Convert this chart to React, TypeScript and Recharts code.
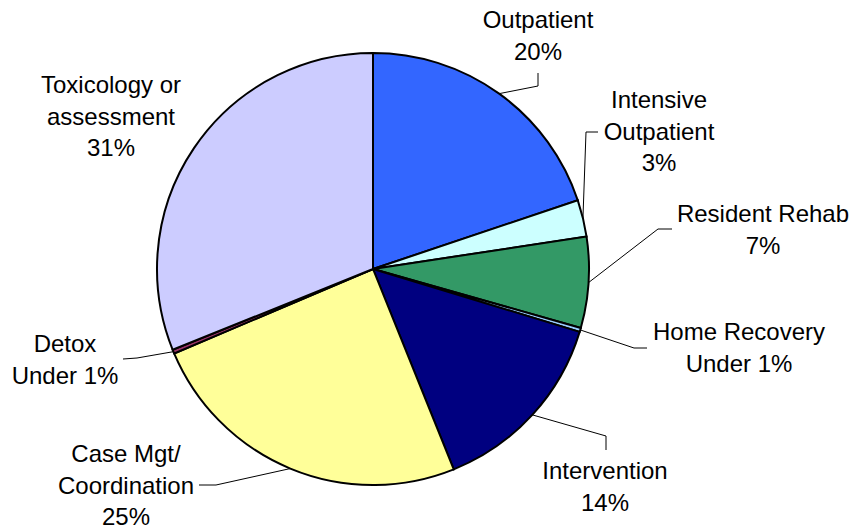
import { Cell, Pie, PieChart } from 'recharts'

const categories = [
  'Outpatient',
  'Intensive\nOutpatient',
  'Resident Rehab',
  'Home Recovery',
  'Intervention',
  'Case Mgt/\nCoordination',
  'Detox',
  'Toxicology or\nassessment',
]

const shares = [19.85, 2.75, 6.8, 0.3, 14.2, 24.7, 0.3, 31.1]

const colors = [
  '#3366FF',
  '#CCFFFF',
  '#339966',
  '#99CCFF',
  '#000080',
  '#FFFF99',
  '#993366',
  '#CCCCFF',
]

// label placement: text centre x, first baseline y, leader elbow and end (null = no leader)
const labelLayout = [
  { tx: 538, ty: 28, elbow: [538, 86], end: [538, 73] },
  { tx: 659, ty: 108, elbow: [586, 132], end: [598, 132] },
  { tx: 763, ty: 222, elbow: [658, 229], end: [672, 229] },
  { tx: 739, ty: 340, elbow: [634, 348], end: [647, 348] },
  { tx: 605, ty: 479, elbow: [606, 436], end: [606, 450] },
  { tx: 126, ty: 462, elbow: [216, 485], end: [199, 485] },
  { tx: 65, ty: 352, elbow: [137, 358], end: [123, 359] },
  { tx: 111, ty: 93, elbow: null, end: null },
]

const data = categories.map((name, i) => ({ name, value: shares[i] }))

const RADIAN = Math.PI / 180
const LINE_H = 31.5

function pctText(v: number) {
  return v < 1 ? 'Under 1%' : `${Math.round(v)}%`
}

function renderLabel(props: any) {
  const { cx, cy, midAngle, outerRadius, index, value } = props
  const lay = labelLayout[index]
  const lines = [...categories[index].split('\n'), pctText(value)]
  const sx = cx + outerRadius * Math.cos(-midAngle * RADIAN)
  const sy = cy + outerRadius * Math.sin(-midAngle * RADIAN)
  return (
    <g key={`lbl-${index}`}>
      {lay.elbow && lay.end && (
        <polyline
          points={`${sx},${sy} ${lay.elbow[0]},${lay.elbow[1]} ${lay.end[0]},${lay.end[1]}`}
          fill='none'
          stroke='#000'
          strokeWidth={1}
        />
      )}
      <text
        x={lay.tx}
        y={lay.ty}
        textAnchor='middle'
        fontFamily='"Liberation Sans", Arial, sans-serif'
        fontSize={24}
        fill='#000'
      >
        {lines.map((ln, i) => (
          <tspan key={i} x={lay.tx} dy={i === 0 ? 0 : LINE_H}>
            {ln}
          </tspan>
        ))}
      </text>
    </g>
  )
}

export default function App() {
  return (
    <div style={{ position: 'absolute', left: 0, top: 0, background: '#fff' }}>
      <PieChart width={854} height={529} margin={{ top: 0, right: 0, bottom: 0, left: 0 }}>
        <Pie
          data={data}
          dataKey='value'
          nameKey='name'
          cx={373}
          cy={269}
          outerRadius={216}
          startAngle={90}
          endAngle={-270}
          stroke='#000'
          strokeWidth={2}
          label={renderLabel}
          labelLine={false}
          isAnimationActive={false}
        >
          {data.map((d, i) => (
            <Cell key={d.name} fill={colors[i]} stroke='#000' strokeWidth={2} />
          ))}
        </Pie>
      </PieChart>
    </div>
  )
}
